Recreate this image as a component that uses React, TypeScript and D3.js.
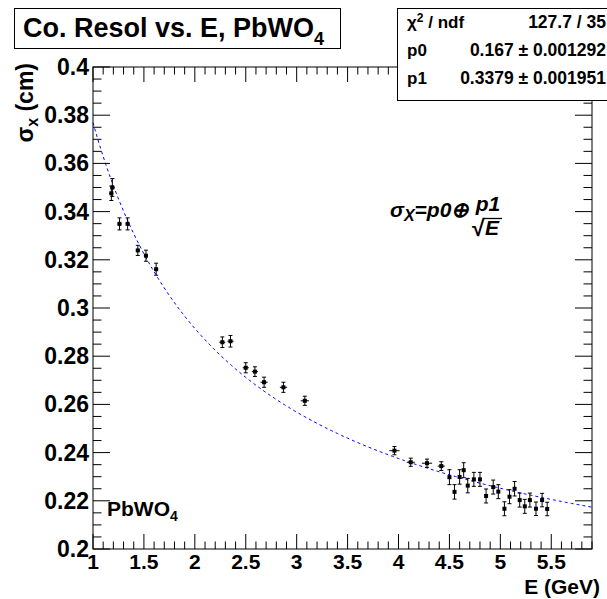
import React from 'react';
import * as d3 from 'd3';

const W = 607;
const H = 599;
const FONT = '"Liberation Sans", Arial, Helvetica, sans-serif';

// measured points (E in GeV, sigma_x in cm)
const energy = [1.18, 1.19, 1.26, 1.34, 1.44, 1.52, 1.62, 2.27, 2.35, 2.50, 2.59, 2.68, 2.87, 3.08,
  3.96, 4.12, 4.28, 4.42, 4.50, 4.55, 4.60, 4.64, 4.68, 4.74, 4.80, 4.86, 4.93, 4.98, 5.04, 5.09,
  5.14, 5.19, 5.24, 5.29, 5.35, 5.41, 5.46];
const sigma = [0.3476, 0.3500, 0.3349, 0.3349, 0.3239, 0.3217, 0.3161, 0.2858, 0.2862, 0.2752, 0.2736,
  0.2692, 0.2671, 0.2615, 0.2408, 0.2360, 0.2356, 0.2344, 0.2298, 0.2237, 0.2299, 0.2327, 0.2263,
  0.2289, 0.2289, 0.2220, 0.2257, 0.2238, 0.2167, 0.2217, 0.2250, 0.2203, 0.2177, 0.2203, 0.2167,
  0.2203, 0.2166];
const sigmaErr = [0.0030, 0.0037, 0.0025, 0.0025, 0.0021, 0.0023, 0.0025, 0.0022, 0.0024, 0.0021, 0.0020,
  0.0021, 0.0021, 0.0019, 0.0017, 0.0017, 0.0017, 0.0018, 0.0031, 0.0030, 0.0030, 0.0031, 0.0030,
  0.0029, 0.0029, 0.0029, 0.0029, 0.0029, 0.0029, 0.0029, 0.0030, 0.0029, 0.0029, 0.0029, 0.0028,
  0.0028, 0.0028];
const energyErr = [0.02, 0.02, 0.02, 0.02, 0.02, 0.02, 0.02, 0.03, 0.03, 0.03, 0.03, 0.035, 0.035, 0.04,
  0.05, 0.04, 0.05, 0.035, 0.012, 0.012, 0.012, 0.012, 0.012, 0.012, 0.012, 0.012, 0.012, 0.012,
  0.012, 0.012, 0.012, 0.012, 0.012, 0.012, 0.012, 0.012, 0.012];

// fit result
const p0 = 0.167;
const p1 = 0.3379;
const statLabels = ['ndf', 'p0', 'p1'];
const statValues = ['127.7 / 35', '0.167 \u00b1 0.001292', '0.3379 \u00b1 0.001951'];

const xTicks = [1, 1.5, 2, 2.5, 3, 3.5, 4, 4.5, 5, 5.5];
const yTicks = [0.2, 0.22, 0.24, 0.26, 0.28, 0.3, 0.32, 0.34, 0.36, 0.38, 0.4];

const frame = { left: 93, top: 67, right: 592, bottom: 549 };

export default function App() {
  const x = d3.scaleLinear().domain([1, 5.9]).range([frame.left, frame.right]);
  const y = d3.scaleLinear().domain([0.2, 0.4]).range([frame.bottom, frame.top]);

  const fit = (e: number) => Math.sqrt(p0 * p0 + (p1 * p1) / e);
  const curve = d3.line<number>().x(e => x(e)).y(e => y(fit(e)))(d3.range(1, 5.9001, 0.02));

  const xMinor = d3.range(1, 5.9001, 0.1).map(v => +v.toFixed(2));
  const yMinor = d3.range(0.2, 0.4001, 0.005).map(v => +v.toFixed(3));
  const isMajorX = (v: number) => Math.abs(v * 2 - Math.round(v * 2)) < 1e-6;
  const isMajorY = (v: number) => Math.abs(v * 50 - Math.round(v * 50)) < 1e-6;
  const MAJ = 15, MIN = 7.5;
  const rowY = [28, 56, 84];

  return (
    <svg width={W} height={H} style={{ position: 'absolute', left: 0, top: 0, background: '#fff' }}
      fontFamily={FONT} fontWeight="bold">
      <rect x={0} y={0} width={W} height={H} fill="#fff" />

      {/* fit curve */}
      <path d={curve ?? ''} fill="none" stroke="#0000ff" strokeWidth={1} strokeDasharray="3,3" />

      {/* data with errors */}
      {energy.map((e, i) => {
        const cx = x(e), cy = y(sigma[i]);
        const y1 = y(sigma[i] + sigmaErr[i]), y2 = y(sigma[i] - sigmaErr[i]);
        const x1 = x(e - energyErr[i]), x2 = x(e + energyErr[i]);
        return (
          <g key={i} stroke="#000" strokeWidth={1}>
            <line x1={cx} x2={cx} y1={y1} y2={y2} />
            <line x1={cx - 2} x2={cx + 2} y1={y1} y2={y1} />
            <line x1={cx - 2} x2={cx + 2} y1={y2} y2={y2} />
            <line x1={x1} x2={x2} y1={cy} y2={cy} />
            <rect x={cx - 2} y={cy - 2} width={4} height={4} fill="#000" stroke="none" />
          </g>
        );
      })}

      {/* frame */}
      <rect x={frame.left} y={frame.top} width={frame.right - frame.left} height={frame.bottom - frame.top}
        fill="none" stroke="#000" strokeWidth={1} />
      {xMinor.map(v => {
        const len = isMajorX(v) ? MAJ : MIN;
        return (
          <g key={'x' + v} stroke="#000">
            <line x1={x(v)} x2={x(v)} y1={frame.bottom} y2={frame.bottom - len} />
            <line x1={x(v)} x2={x(v)} y1={frame.top} y2={frame.top + len} />
          </g>
        );
      })}
      {yMinor.map(v => {
        const len = isMajorY(v) ? MAJ + 2 : MIN + 1;
        return (
          <g key={'y' + v} stroke="#000">
            <line x1={frame.left} x2={frame.left + len} y1={y(v)} y2={y(v)} />
            <line x1={frame.right} x2={frame.right - len} y1={y(v)} y2={y(v)} />
          </g>
        );
      })}

      {/* tick labels */}
      {xTicks.map(v => (
        <text key={'xl' + v} x={x(v)} y={569} fontSize={21} textAnchor="middle">{String(v)}</text>
      ))}
      {yTicks.map(v => (
        <text key={'yl' + v} x={89} y={y(v) + 8} fontSize={23} textAnchor="end">{String(v)}</text>
      ))}

      {/* axis titles */}
      <text x={600} y={594} fontSize={21} textAnchor="end">E (GeV)</text>
      <text transform="translate(33,63) rotate(-90)" fontSize={23} textAnchor="end">
        {'\u03c3'}<tspan fontSize={16} dy={5}>x</tspan><tspan dy={-5}> (cm)</tspan>
      </text>

      {/* PbWO4 label */}
      <text x={107} y={516} fontSize={21}>PbWO<tspan fontSize={14} dy={5}>4</tspan></text>

      {/* formula */}
      <g fontStyle="italic" fontSize={21}>
        <text x={390} y={217}>{'\u03c3'}<tspan fontSize={16} dy={4}>X</tspan><tspan dy={-4}>=p0{'\u2295'}</tspan></text>
        <text x={488} y={211} textAnchor="middle">p1</text>
        <text x={472} y={236} fontStyle="normal" fontSize={23}>{'\u221a'}</text>
        <text x={485} y={235}>E</text>
        <line x1={484} x2={502} y1={218.5} y2={218.5} stroke="#000" strokeWidth={1.3} />
      </g>

      {/* title box */}
      <rect x={14.5} y={8.5} width={326} height={40} fill="#fff" stroke="#000" strokeWidth={1} />
      <text x={23} y={37} fontSize={27}>Co. Resol vs. E, PbWO<tspan fontSize={18} dy={8}>4</tspan></text>

      {/* stats box */}
      <rect x={397.5} y={8.5} width={230} height={92} fill="#fff" stroke="#000" strokeWidth={1} />
      {statLabels.map((l, i) => (
        <text key={l} x={407} y={rowY[i]} fontSize={17}>
          {i === 0 ? <>{'\u03c7'}<tspan fontSize={12} dy={-6}>2</tspan><tspan dy={6}> / ndf</tspan></> : l}
        </text>
      ))}
      {statValues.map((v, i) => (
        <text key={v} x={606} y={rowY[i]} fontSize={17.5} textAnchor="end">{v}</text>
      ))}
    </svg>
  );
}
